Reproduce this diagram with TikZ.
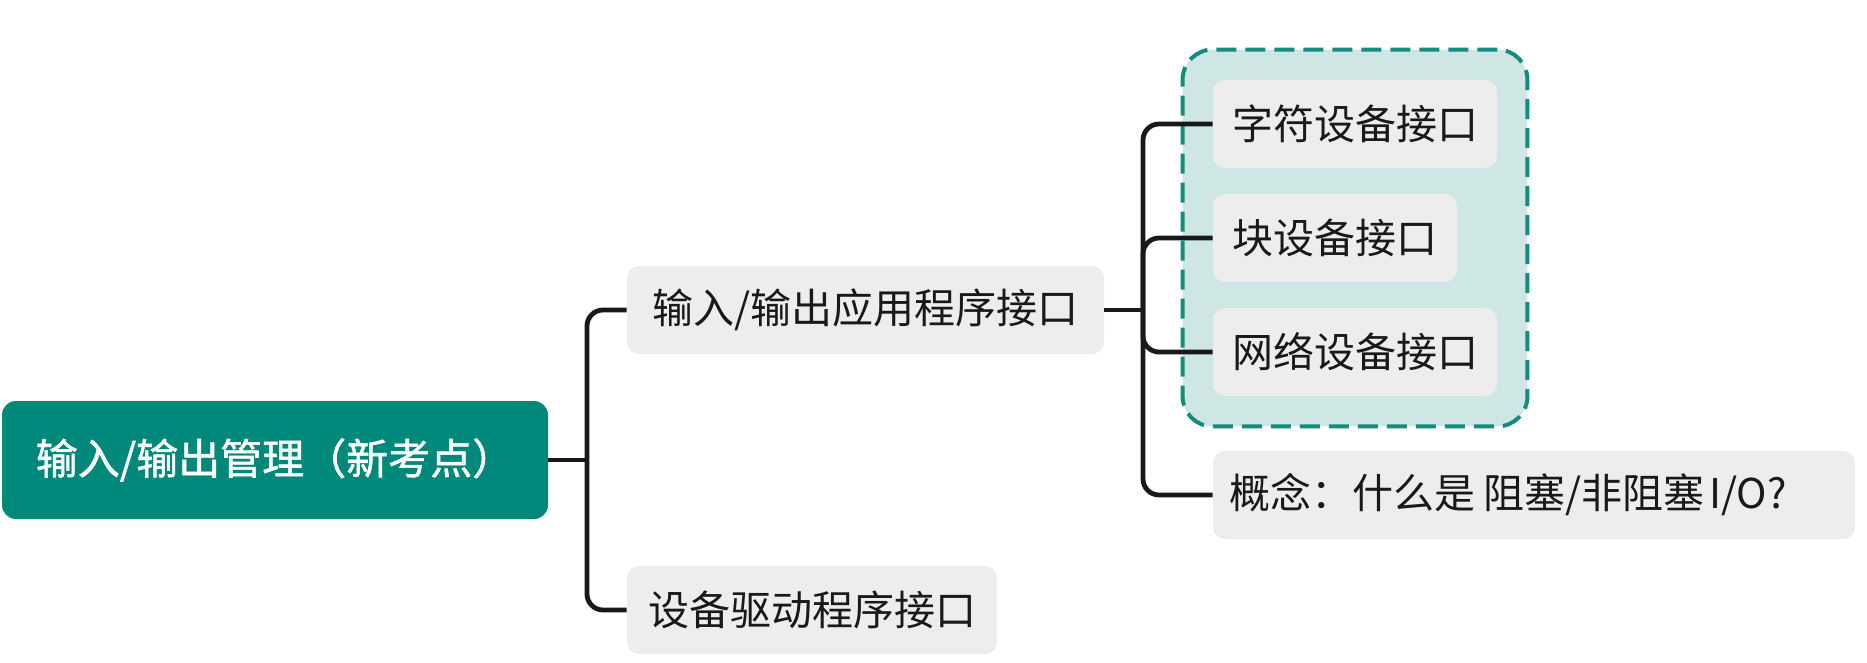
\documentclass[tikz,border=0pt]{standalone}
\usepackage{fontspec}
\setmainfont{Noto Sans CJK SC}[AutoFakeBold=1.2]
\usetikzlibrary{fit,backgrounds}

\definecolor{rootteal}{HTML}{00897B}
\definecolor{topicgray}{HTML}{EDEDED}
\definecolor{groupfill}{HTML}{CFE7E4}
\definecolor{groupline}{HTML}{168C7E}

\tikzset{
  root/.style={fill=rootteal, text=white, rounded corners=7pt,
    font=\fontsize{21}{25}\selectfont\bfseries},
  topic/.style={fill=topicgray, text=black!90, rounded corners=6pt,
    minimum height=44pt, font=\fontsize{20.5}{25}\selectfont},
  group/.style={fill=groupfill, draw=groupline, line width=2pt,
    dash pattern=on 10pt off 4.5pt, rounded corners=15pt, inner sep=15pt},
  link/.style={line width=2.4pt, black!90, rounded corners=8pt},
}

\begin{document}
\begin{tikzpicture}[x=0.5pt,y=-0.5pt]
  \useasboundingbox (0,0) rectangle (1867,663);

  \node[root, minimum width=273pt, minimum height=59pt] (io) at (275,460) {输入/输出管理（新考点）};
  \node[topic, minimum width=238.5pt] (api) at (865.5,310) {输入/输出应用程序接口};
  \node[topic, minimum width=185pt] (drv) at (812,610) {设备驱动程序接口};

  \node[topic, minimum width=142pt] (chr) at (1355,124) {字符设备接口};
  \node[topic, minimum width=122pt] (blk) at (1335,238) {块设备接口};
  \node[topic, minimum width=142pt] (net) at (1355,352) {网络设备接口};
  \node[topic, minimum width=321pt, text width=305pt, align=left] (blocking) at (1534,495)
    {概念：什么是\hspace{0.2em}阻塞/非阻塞\hspace{0.12em}I/O?};

  \begin{scope}[on background layer]
    \node[group, fit=(chr)(blk)(net)] (devs) {};
  \end{scope}

  \coordinate (j1) at (587,460);
  \coordinate (j2) at (1143,310);

  \draw[link] (io.east) -- (j1);
  \draw[link] (j1) |- (api.west);
  \draw[link] (j1) |- (drv.west);

  \draw[link] (api.east) -- (j2);
  \foreach \n in {chr,blk,net,blocking}
    \draw[link] (j2) |- (\n.west);
\end{tikzpicture}
\end{document}
